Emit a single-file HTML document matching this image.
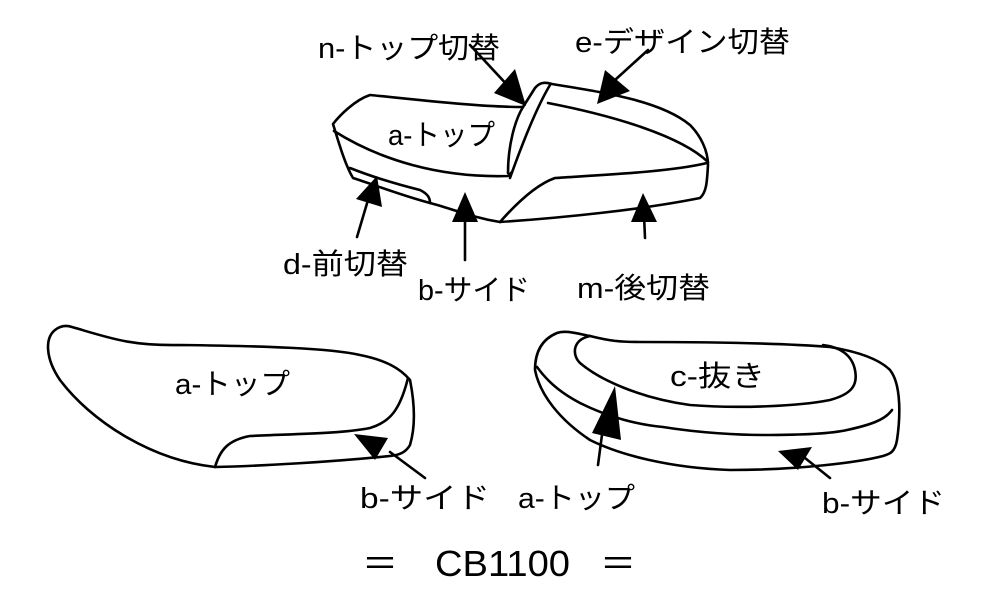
<!DOCTYPE html>
<html><head><meta charset="utf-8"><style>
html,body{margin:0;padding:0;background:#fff;}
svg{display:block;}
text{font-family:"Liberation Sans","Noto Sans CJK JP",sans-serif;font-size:29px;fill:#000;}
</style></head><body>
<svg width="1000" height="600" viewBox="0 0 1000 600" xmlns="http://www.w3.org/2000/svg">
<g fill="none" stroke="#000" stroke-width="2.6" stroke-linejoin="round" stroke-linecap="round">
<!-- top seat -->
<path d="M333,124 C340,115 355,100 370,95 C420,100 480,107 523,107 L535,88 C540,82 545,82 552,84 C600,92 660,100 690,125 C700,135 708,150 708,165 C707,180 707,192 700,198 C640,210 560,218 500,222 C470,217 450,208 430,203 C400,195 375,185 353,178 C345,165 338,140 333,124 Z"/>
<path d="M334,131 C380,160 440,178 508,176 L512,172"/>
<path d="M508,173 C508,145 515,120 523,107"/>
<path d="M510,178 C520,150 535,110 550,85"/>
<path d="M548,103 C610,115 680,135 708,162"/>
<path d="M500,222 C515,205 535,185 555,178 C600,175 670,172 707,163"/>
<path d="M350,168 C375,178 400,185 420,190 C428,194 430,198 430,203"/>
<!-- bottom left -->
<path d="M72,327 C110,338 130,346 180,345 C260,346 330,348 360,355 C385,360 400,368 410,380 C414,400 416,425 410,445 C406,452 400,455 390,456 C330,462 260,466 215,467 C150,460 90,420 60,380 C45,358 45,338 55,330 C60,326 66,325 72,327 Z"/>
<path d="M215,467 C220,450 228,440 250,436 C290,434 340,434 370,428 C390,422 400,410 408,378"/>
<!-- bottom right -->
<path d="M557,333 C565,330 575,333 590,336 C610,341 620,342 640,342 C700,342 780,343 830,347 C860,352 880,360 890,370 C902,385 900,420 897,440 C895,452 890,454 883,456 C860,462 800,470 730,470 C670,468 620,455 590,440 C560,420 540,395 535,370 C535,355 540,340 557,333 Z"/>
<path d="M590,336 C572,340 572,355 580,363 C600,380 640,398 690,405 C740,409 800,406 830,400 C852,394 858,385 855,370 C852,355 840,347 823,345"/>
<path d="M537,367 C550,385 565,395 580,403 C610,418 640,425 663,427 C700,433 740,435 763,435 C800,435 830,434 847,430 C870,425 885,420 892,410"/>
<!-- arrow shafts -->
<path d="M470,45 L510,88"/>
<path d="M648,50 L615,80"/>
<path d="M357,237 L368,200"/>
<path d="M465,260 L465,215"/>
<path d="M645,238 L644,215"/>
<path d="M425,478 L390,452"/>
<path d="M598,465 L605,412"/>
<path d="M830,478 L805,458"/>
</g>
<g fill="#000">
<polygon points="526,106 494,93 515,69"/>
<polygon points="597,104 605,70 630,91"/>
<polygon points="377,176 382,207 356,199"/>
<polygon points="465,192 478,222 452,222"/>
<polygon points="643,193 657,222 631,222"/>
<polygon points="354,434 388,438 375,460"/>
<polygon points="615,386 621,440 592,433"/>
<polygon points="778,451 812,447 798,470"/>
</g>
<text x="318" y="58" textLength="182" lengthAdjust="spacingAndGlyphs">n-トップ切替</text>
<text x="575" y="52" textLength="215" lengthAdjust="spacingAndGlyphs">e-デザイン切替</text>
<text x="388" y="145" textLength="107" lengthAdjust="spacingAndGlyphs">a-トップ</text>
<text x="283" y="274" textLength="125" lengthAdjust="spacingAndGlyphs">d-前切替</text>
<text x="418" y="300" textLength="112" lengthAdjust="spacingAndGlyphs">b-サイド</text>
<text x="577" y="298" textLength="133" lengthAdjust="spacingAndGlyphs">m-後切替</text>
<text x="175" y="394" textLength="115" lengthAdjust="spacingAndGlyphs">a-トップ</text>
<text x="670" y="386" textLength="95" lengthAdjust="spacingAndGlyphs">c-抜き</text>
<text x="360" y="508" textLength="130" lengthAdjust="spacingAndGlyphs">b-サイド</text>
<text x="518" y="508" textLength="117" lengthAdjust="spacingAndGlyphs">a-トップ</text>
<text x="822" y="513" textLength="123" lengthAdjust="spacingAndGlyphs">b-サイド</text>
<text x="362" y="576" style="font-size:36px">＝</text>
<text x="435" y="576" style="font-size:36px" textLength="135" lengthAdjust="spacingAndGlyphs">CB1100</text>
<text x="600" y="576" style="font-size:36px">＝</text>
</svg>
</body></html>
